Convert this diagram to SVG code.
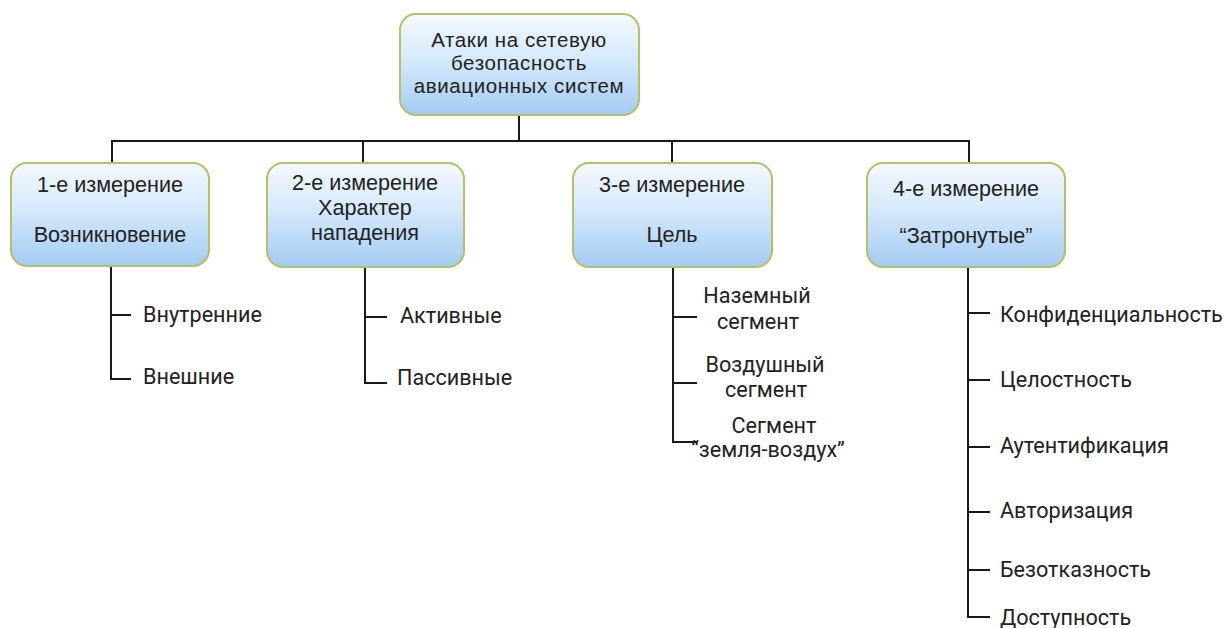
<svg xmlns="http://www.w3.org/2000/svg" width="1224" height="628" viewBox="0 0 1224 628">
  <defs>
    <linearGradient id="boxFill" x1="0" y1="0" x2="0" y2="1">
      <stop offset="0" stop-color="#f4f9fe"/>
      <stop offset="0.45" stop-color="#d6e9fb"/>
      <stop offset="1" stop-color="#a3cbf3"/>
    </linearGradient>
    <style>
      .box { fill: url(#boxFill); stroke: #b3c06c; stroke-width: 2; }
      .boxText { font-family: "Liberation Sans", Arial, sans-serif; font-size: 21.6px; fill: #222; text-anchor: middle; }
      .rootText { font-family: "Liberation Sans", Arial, sans-serif; font-size: 20.5px; letter-spacing: 0.6px; fill: #222; text-anchor: middle; }
      .leaf { font-family: Roboto, "Liberation Sans", sans-serif; font-size: 21.6px; fill: #222; }
      .leafC { font-family: Roboto, "Liberation Sans", sans-serif; font-size: 21.6px; fill: #222; text-anchor: middle; }
      .wire { fill: none; stroke: #1a1a1a; stroke-width: 2; }
    </style>
  </defs>
  <rect width="1224" height="628" fill="#ffffff"/>

  <!-- connectors -->
  <g id="connectors">
    <path class="wire" d="M519 115 V141 M112 163 V141 H969 V163 M363 141 V163 M672 141 V163"/>
    <!-- dimension 1 branches -->
    <path class="wire" d="M111 266 V379 H131 M111 315 H131"/>
    <!-- dimension 2 branches -->
    <path class="wire" d="M365 267 V383 H387 M365 317 H387"/>
    <!-- dimension 3 branches -->
    <path class="wire" d="M673 267 V442 H697 M673 317 H697 M673 383 H697"/>
    <!-- dimension 4 branches -->
    <path class="wire" d="M968 267 V617 H990 M968 313 H990 M968 380 H990 M968 447 H990 M968 512 H990 M968 570 H990"/>
  </g>

  <g id="root">
    <rect class="box" x="400" y="14" width="239" height="101" rx="16"/>
    <text class="rootText" x="519" y="47">Атаки на сетевую</text>
    <text class="rootText" x="519" y="70">безопасность</text>
    <text class="rootText" x="519" y="93">авиационных систем</text>
  </g>

  <g id="dim1">
    <rect class="box" x="11" y="163" width="198" height="103" rx="16"/>
    <text class="boxText" x="110" y="192">1-е измерение</text>
    <text class="boxText" x="110" y="242">Возникновение</text>
  </g>

  <g id="dim2">
    <rect class="box" x="267" y="163" width="197" height="104" rx="16"/>
    <text class="boxText" x="365" y="190">2-е измерение</text>
    <text class="boxText" x="365" y="215">Характер</text>
    <text class="boxText" x="365" y="240">нападения</text>
  </g>

  <g id="dim3">
    <rect class="box" x="573" y="163" width="199" height="104" rx="16"/>
    <text class="boxText" x="672" y="192">3-е измерение</text>
    <text class="boxText" x="672" y="242">Цель</text>
  </g>

  <g id="dim4">
    <rect class="box" x="867" y="163" width="198" height="104" rx="16"/>
    <text class="boxText" x="966" y="196">4-е измерение</text>
    <text class="boxText" x="966" y="243">“Затронутые”</text>
  </g>

  <g id="leaf1a"><text class="leaf" x="143" y="322">Внутренние</text></g>
  <g id="leaf1b"><text class="leaf" x="143" y="384">Внешние</text></g>

  <g id="leaf2a"><text class="leaf" x="400" y="323">Активные</text></g>
  <g id="leaf2b"><text class="leaf" x="397" y="385">Пассивные</text></g>

  <g id="leaf3a">
    <text class="leafC" x="757" y="303">Наземный</text>
    <text class="leafC" x="758" y="329">сегмент</text>
  </g>
  <g id="leaf3b">
    <text class="leafC" x="765" y="372">Воздушный</text>
    <text class="leafC" x="766" y="397">сегмент</text>
  </g>
  <g id="leaf3c">
    <text class="leafC" x="774" y="433">Сегмент</text>
    <text class="leafC" x="768" y="457">“земля-воздух”</text>
  </g>

  <g id="leaf4a"><text class="leaf" x="1000" y="322">Конфиденциальность</text></g>
  <g id="leaf4b"><text class="leaf" x="1000" y="387">Целостность</text></g>
  <g id="leaf4c"><text class="leaf" x="1000" y="453">Аутентификация</text></g>
  <g id="leaf4d"><text class="leaf" x="1000" y="518">Авторизация</text></g>
  <g id="leaf4e"><text class="leaf" x="1000" y="577">Безотказность</text></g>
  <g id="leaf4f"><text class="leaf" x="1000" y="625">Доступность</text></g>
</svg>
